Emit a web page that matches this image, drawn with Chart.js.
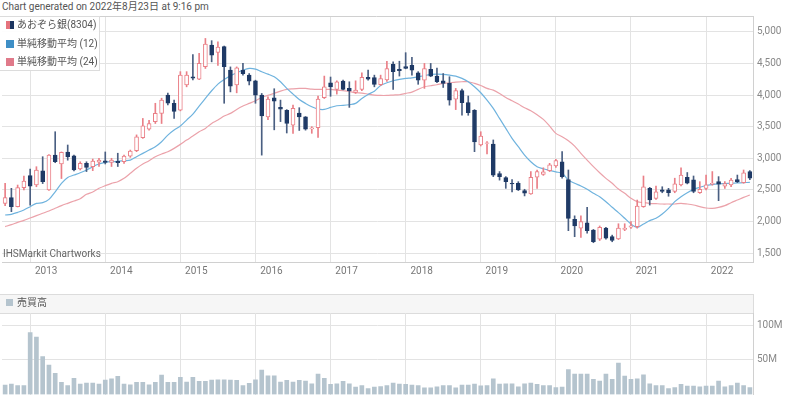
<!DOCTYPE html>
<html>
<head>
<meta charset="utf-8">
<script src="https://cdn.jsdelivr.net/npm/chart.js@4"></script>
<style>
  body { margin: 0; width: 800px; height: 396px; overflow: hidden; background: #fff; font-family: Roboto, "Noto Sans CJK JP", sans-serif; position: relative; }
  .txt { position: absolute; font-size: 10px; line-height: 14px; color: #555; white-space: nowrap; }
  .box { position: absolute; box-sizing: border-box; border: 1px solid #dcdcdc; }
  .sw { position: absolute; width: 8px; height: 8px; }
  #main { position: absolute; left: 0; top: 16px; width: 800px; height: 264px; }
  #vol { position: absolute; left: 0; top: 313px; width: 800px; height: 83px; }
</style>
</head>
<body>
<div class="txt" style="left:2px;top:0px;">Chart generated on 2022年8月23日 at 9:16 pm</div>
<div id="main"><canvas id="priceChart"></canvas></div>

<div class="box" style="left:-1px;top:16px;width:101px;height:55px;background:rgba(255,255,255,0.92);"></div>
<div class="sw" style="left:6px;top:21px;width:4px;background:#e5737d;"></div>
<div class="sw" style="left:10px;top:21px;width:4px;background:#1c3661;"></div>
<div class="txt" style="left:17px;top:18px;">あおぞら銀(8304)</div>
<div class="sw" style="left:6px;top:40px;background:#3f8fc6;"></div>
<div class="txt" style="left:17px;top:37px;">単純移動平均 (12)</div>
<div class="sw" style="left:6px;top:58px;background:#e07a8a;"></div>
<div class="txt" style="left:17px;top:55px;">単純移動平均 (24)</div>

<div class="txt" style="left:3px;top:247px;color:#666;">IHSMarkit Chartworks</div>

<div class="box" style="left:-1px;top:294px;width:755px;height:20px;background:#f6f6f6;"></div>
<div class="sw" style="left:6px;top:299px;width:7px;height:7px;background:#b5c4ce;"></div>
<div class="txt" style="left:17px;top:296px;">売買高</div>
<div id="vol"><canvas id="volumeChart"></canvas></div>

<script>
// monthly candles, Sep 2012 .. Aug 2022
const months = [];
for (let k = 0; k < 120; k++) {
    const m = (8 + k) % 12;
    const y = 2012 + Math.floor((8 + k) / 12);
    months.push(y + '-' + String(m + 1).padStart(2, '0'));
}

const priceTicks = [1500, 2000, 2500, 3000, 3500, 4000, 4500, 5000];
const volumeTicks = [50, 100];

const opens = [2287,2377,2235,2535,2725,2577,2800,2500,3050,2910,3100,3040,2830,2920,2867,2940,2960,2935,2950,2945,
    3035,3120,3325,3460,3580,3710,4000,3870,3760,4160,4290,4250,4450,4790,4675,4765,4395,4160,4395,4315,
    4225,4000,3655,3955,3805,3760,3525,3715,3655,3465,3485,3960,4195,4090,4220,4105,4040,4090,4280,4275,
    4165,4240,4485,4405,4450,4470,4350,4235,4405,4300,4225,4185,3935,4070,3880,3760,3210,3235,3225,2760,
    2695,2605,2605,2490,2435,2700,2745,2805,2880,2945,2665,2035,1893,1980,1865,1720,1895,1760,1725,1875,
    1910,1920,2235,2525,2365,2500,2500,2475,2580,2700,2660,2455,2525,2590,2630,2560,2580,2665,2615,2790];
const highs = [2604,2525,2577,2720,2830,2867,3025,3060,3420,3100,3210,3050,2945,2945,2988,3000,3100,3000,3080,3050,
    3130,3370,3630,3600,3870,3950,4030,3920,4370,4370,4640,4660,4895,4860,4840,4775,4445,4445,4500,4340,
    4235,4025,3970,4100,3920,3770,3840,3800,3660,3500,3985,4300,4285,4225,4235,4210,4225,4350,4395,4315,
    4315,4535,4525,4535,4670,4595,4370,4500,4500,4425,4340,4290,4105,4095,3985,3770,3420,3265,3290,2790,
    2710,2665,2630,2510,2790,2815,2850,2920,2985,3105,2815,2090,2090,2225,1875,1930,1910,1785,1965,1965,
    2000,2340,2720,2540,2560,2550,2525,2685,2850,2775,2720,2630,2735,2790,2710,2630,2685,2735,2815,2805];
const lows = [2250,2156,2230,2500,2260,2550,2600,2490,2930,2680,2970,2800,2815,2790,2805,2870,2910,2870,2870,2920,
    3015,3105,3315,3445,3550,3550,3845,3630,3750,4130,4240,4245,4420,4525,4470,3870,4050,4035,4315,4160,
    3870,3050,3610,3450,3580,3400,3395,3440,3445,3395,3330,3945,3980,4015,4080,3805,4025,4070,4235,4130,
    4150,4215,4090,4300,4415,4315,4170,4105,4290,4195,4120,3840,3770,3680,3680,3105,3195,3070,2710,2655,
    2525,2470,2490,2405,2430,2525,2730,2790,2855,2685,1855,1760,1750,1815,1665,1700,1720,1680,1715,1855,
    1890,1895,2225,2260,2350,2455,2400,2455,2565,2595,2455,2445,2500,2575,2330,2525,2550,2615,2605,2660];
const closes = [2377,2235,2535,2640,2560,2815,2630,3050,2945,3095,3025,2815,2920,2857,2956,2970,2935,2970,2930,3035,
    3115,3340,3515,3550,3710,3920,3870,3740,4315,4315,4265,4500,4805,4630,4760,4450,4140,4430,4340,4220,
    4000,3670,3935,3905,3775,3550,3790,3655,3460,3480,3935,4130,4130,4210,4090,4065,4080,4280,4250,4170,
    4260,4420,4370,4385,4420,4395,4235,4420,4300,4210,4185,3920,4070,3880,3720,3260,3350,3245,2735,2710,
    2630,2595,2500,2450,2700,2790,2785,2895,2965,2710,2050,1930,1998,1855,1680,1910,1735,1700,1895,1895,
    1930,2245,2550,2340,2470,2475,2455,2595,2735,2605,2475,2510,2580,2605,2590,2600,2655,2630,2770,2685];

const ma12 = [2103,2114,2145,2182,2235,2287,2298,2350,2470,2604,2698,2735,2772,2814,2867,2909,2935,2946,2951,2962,
    2972,3025,3078,3130,3183,3262,3367,3446,3510,3604,3699,3826,3947,4068,4173,4247,4305,4352,4394,4421,
    4410,4368,4331,4289,4210,4105,4015,3930,3868,3815,3778,3773,3804,3831,3836,3847,3868,3947,4010,4060,
    4152,4194,4226,4247,4263,4273,4289,4305,4326,4331,4326,4315,4300,4263,4210,4131,4036,3920,3789,3631,
    3473,3315,3183,3051,2946,2867,2835,2810,2785,2762,2657,2604,2562,2509,2446,2393,2314,2225,2140,2051,
    1961,1908,1961,2014,2051,2119,2209,2314,2393,2456,2509,2540,2570,2585,2595,2600,2605,2610,2615,2620];
const ma24 = [1919,1950,1987,2019,2056,2093,2130,2166,2209,2251,2288,2324,2361,2430,2467,2525,2567,2604,2630,2683,
    2762,2841,2909,2962,3025,3067,3104,3157,3220,3288,3351,3420,3473,3552,3604,3668,3710,3773,3826,3868,
    3910,3962,3994,4026,4062,4089,4099,4105,4105,4094,4089,4089,4089,4078,4068,4057,4036,4031,4015,4000,
    3994,3994,4000,4005,4026,4047,4089,4131,4147,4163,4184,4194,4205,4210,4210,4184,4152,4105,4078,4026,
    3962,3910,3857,3799,3752,3689,3615,3510,3394,3341,3278,3193,3078,2972,2867,2772,2683,2604,2514,2446,
    2367,2314,2298,2288,2282,2277,2277,2277,2288,2277,2261,2235,2214,2209,2224,2251,2298,2340,2382,2419];

// volume, millions of shares
const volume = [13.6,15,13,13,89.7,83,55,42.7,30.6,17.5,13,23.3,15,16.5,16.5,15,21,22.8,26.2,15,
    14,17.5,17.5,14,17.5,28,17.5,17.5,24.7,18,24.7,19,19,21,21.3,21.3,21,20.4,13,16,
    21.3,35.4,27,27,18,20.4,18,20.4,19.4,15.5,29.6,23.3,14.6,15.5,19,15.5,10.7,13,8.7,10.7,
    11.6,13,16.5,15,14.6,13.6,13,9.7,9.7,11,13,13,9.7,13.6,13.6,15,12.6,13,22.8,15,
    15.5,15.5,11,15.5,16.5,14.6,13,13,10,10.7,35.9,29.6,29.6,29.6,21.8,19.4,29.6,21.8,45.6,26.7,
    21.8,22.8,28.6,15.5,13,13,8.7,10,14.6,12.1,12.1,11,12.1,12.1,19.4,11,13,16.5,13,10];

const UP = '#ea7f87';
const DOWN = '#1f3a66';
const GRID = '#e3e3e3';
const FRAME = '#d0d0d0';

Chart.defaults.font.family = 'Roboto, sans-serif';
Chart.defaults.font.size = 10;
Chart.defaults.animation = false;

const isJan = i => months[i] && months[i].endsWith('-01');
const isUp = i => closes[i] >= opens[i];

// thin line on top of the plot area
const topFrame = {
    id: 'topFrame',
    afterDraw(chart) {
        const a = chart.chartArea, c = chart.ctx;
        c.save();
        c.strokeStyle = FRAME;
        c.lineWidth = 1;
        c.beginPath();
        c.moveTo(0, a.top + 0.5);
        c.lineTo(a.right, a.top + 0.5);
        c.stroke();
        c.restore();
    }
};

// keep the plot area flush with the canvas edges
const noPad = s => { s.paddingTop = 0; s.paddingBottom = 0; s.paddingLeft = 0; s.paddingRight = 0; };

const xGrid = {
    offset: false,
    drawTicks: false,
    color: c => (c.tick && isJan(c.index)) ? GRID : 'rgba(0,0,0,0)'
};

new Chart(document.getElementById('priceChart'), {
    type: 'bar',
    data: {
        labels: months,
        datasets: [
            {
                label: 'body',
                data: opens.map((o, i) => [o, closes[i]]),
                grouped: false,
                barThickness: 4,
                borderWidth: 1,
                borderSkipped: false,
                backgroundColor: opens.map((o, i) => isUp(i) ? '#ffffff' : DOWN),
                borderColor: opens.map((o, i) => isUp(i) ? UP : DOWN),
                order: 0
            },
            {
                label: 'wick',
                data: lows.map((l, i) => [l, highs[i]]),
                grouped: false,
                barThickness: 1,
                borderWidth: 0,
                backgroundColor: lows.map((l, i) => isUp(i) ? UP : '#4a5f82'),
                order: 1
            },
            {
                type: 'line',
                label: '単純移動平均 (12)',
                data: ma12,
                borderColor: '#6fb3de',
                borderWidth: 1.2,
                pointRadius: 0,
                tension: 0.3,
                order: 2
            },
            {
                type: 'line',
                label: '単純移動平均 (24)',
                data: ma24,
                borderColor: '#eba2aa',
                borderWidth: 1.2,
                pointRadius: 0,
                tension: 0.3,
                order: 3
            }
        ]
    },
    options: {
        responsive: true,
        maintainAspectRatio: false,
        events: [],
        layout: { padding: { left: 2, right: 0, top: 0, bottom: 0 } },
        plugins: { legend: { display: false }, tooltip: { enabled: false } },
        scales: {
            x: {
                offset: true,
                grid: xGrid,
                border: { display: true, color: FRAME },
                ticks: {
                    autoSkip: false, maxRotation: 0, padding: 3, labelOffset: 16,
                    color: '#777',
                    callback: (v, i) => isJan(i) ? months[i].slice(0, 4) : ''
                },
                afterFit: s => { s.height = 18; noPad(s); }
            },
            y: {
                position: 'right',
                min: 1360,
                max: 5250,
                grid: { color: GRID, drawTicks: false },
                border: { display: true, color: FRAME },
                ticks: {
                    padding: 4, color: '#888',
                    callback: v => v.toLocaleString('en-US')
                },
                afterBuildTicks: s => { s.ticks = priceTicks.map(v => ({ value: v })); },
                afterFit: s => { s.width = 47; noPad(s); }
            }
        }
    },
    plugins: [topFrame]
});

new Chart(document.getElementById('volumeChart'), {
    type: 'bar',
    data: {
        labels: months,
        datasets: [{
            label: '売買高',
            data: volume,
            barThickness: 4,
            backgroundColor: '#b5c4ce'
        }]
    },
    options: {
        responsive: true,
        maintainAspectRatio: false,
        events: [],
        layout: { padding: { left: 2, right: 0, top: 0, bottom: 1.5 } },
        plugins: { legend: { display: false }, tooltip: { enabled: false } },
        scales: {
            x: {
                offset: true,
                grid: xGrid,
                border: { display: false },
                ticks: { display: false, autoSkip: false },
                afterFit: s => { s.height = 0; noPad(s); }
            },
            y: {
                position: 'right',
                min: 0,
                max: 118,
                grid: { color: GRID, drawTicks: false },
                border: { display: true, color: FRAME },
                ticks: {
                    padding: 4, color: '#888',
                    callback: v => v + 'M'
                },
                afterBuildTicks: s => { s.ticks = volumeTicks.map(v => ({ value: v })); },
                afterFit: s => { s.width = 47; noPad(s); }
            }
        }
    }
});
</script>
</body>
</html>
